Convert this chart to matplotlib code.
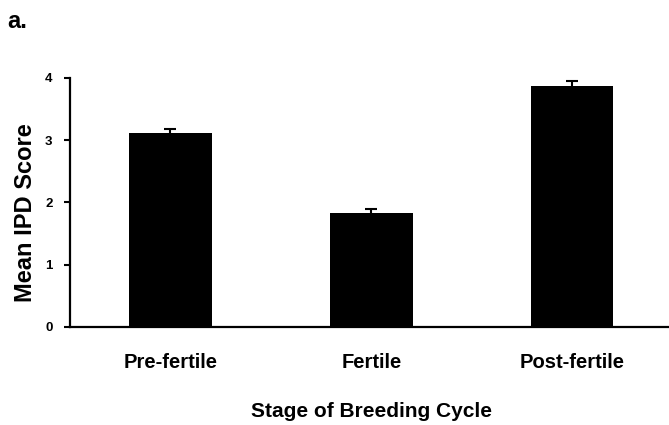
import matplotlib
matplotlib.use("Agg")
import matplotlib.pyplot as plt

# values
stages = ["Pre-fertile", "Fertile", "Post-fertile"]
mean_ipd = [3.12, 1.83, 3.87]
sem_ipd = [0.06, 0.07, 0.08]
yticks = [0, 1, 2, 3, 4]

plt.rcParams['font.family'] = ['Liberation Sans', 'DejaVu Sans']

fig = plt.figure(figsize=(6.69, 4.25), dpi=100)
ax = fig.add_axes([0.1046, 0.2306, 0.901, 0.586])

x = range(len(stages))
ax.bar(x, mean_ipd, width=0.41, color='black', zorder=2)
ax.errorbar(x, mean_ipd, yerr=sem_ipd, fmt='none', ecolor='black',
            elinewidth=1.5, capsize=4, capthick=1.5, zorder=3)

ax.set_xlim(-0.5, 2.5)
ax.set_ylim(0, 4)
ax.set_yticks(yticks)
ax.set_yticklabels([str(t) for t in yticks], fontsize=9.5, fontweight='bold')
ax.set_xticks(list(x))
ax.set_xticklabels(stages, fontsize=14.5, fontweight='bold')

ax.spines['top'].set_visible(False)
ax.spines['right'].set_visible(False)
ax.spines['left'].set_linewidth(1.6)
ax.spines['bottom'].set_linewidth(1.6)
ax.tick_params(axis='x', length=0, pad=19)
ax.tick_params(axis='y', length=4.5, width=1.5, pad=8)

ax.set_ylabel("Mean IPD Score", fontsize=17, fontweight='bold')
ax.yaxis.set_label_coords(-0.054, 0.46)
ax.set_xlabel("Stage of Breeding Cycle", fontsize=15, fontweight='bold', labelpad=21)

fig.text(0.011, 0.935, "a.", fontsize=17, fontweight='bold')

fig.savefig("out.png", dpi=100)
